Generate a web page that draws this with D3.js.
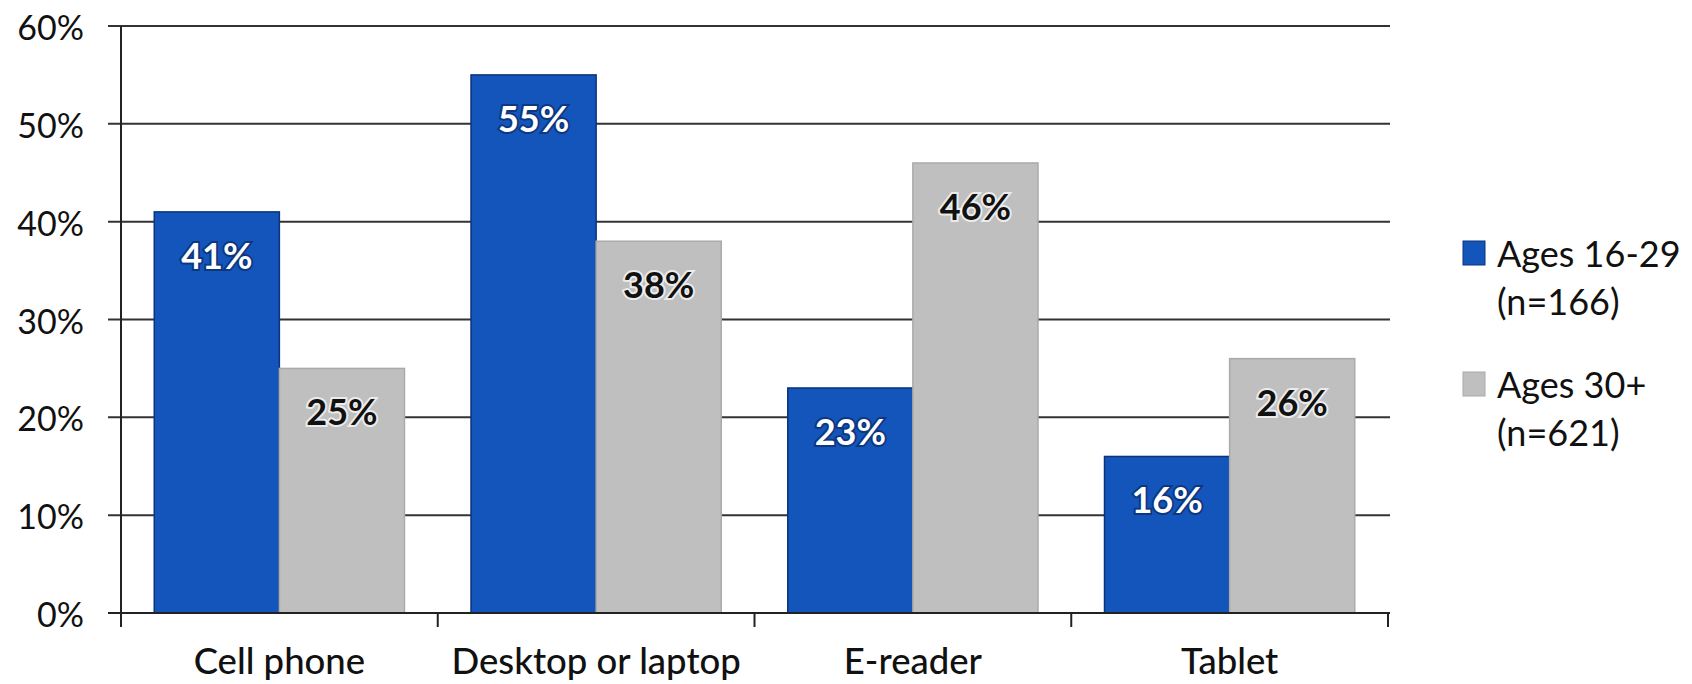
<!DOCTYPE html>
<html>
<head>
<meta charset="utf-8">
<script src="https://cdn.jsdelivr.net/npm/d3@7"></script>
<style>
  html, body { margin: 0; padding: 0; background: #ffffff; }
  svg { display: block; }
  text { font-family: Lato, "Open Sans", sans-serif; fill: #111; }
</style>
</head>
<body>
<svg id="chart" width="1692" height="684"></svg>
<script>
const categories = ["Cell phone", "Desktop or laptop", "E-reader", "Tablet"];
const ages16to29 = [41, 55, 23, 16];
const ages30plus = [25, 38, 46, 26];
const seriesKeys = ["young", "older"];
const seriesLabels = ["Ages 16-29", "Ages 30+"];
const seriesSamples = ["(n=166)", "(n=621)"];
const yTickValues = [0, 10, 20, 30, 40, 50, 60];

const colors = { young: "#1455bb", older: "#bfbfbf" };
const strokes = { young: "#0b347a", older: "#aaaaaa" };

const svg = d3.select("#chart");
const plotLeft = 121, plotRight = 1388, plotTop = 26, plotBottom = 613;

const x = d3.scaleBand().domain(categories).range([plotLeft, plotRight])
  .paddingInner(0.21).paddingOuter(0.105);
const x1 = d3.scaleBand().domain(seriesKeys).range([0, x.bandwidth()]);
const y = d3.scaleLinear().domain([0, 60]).range([plotBottom, plotTop]);

const data = categories.map((c, i) => ({
  cat: c,
  values: [
    { key: "young", v: ages16to29[i] },
    { key: "older", v: ages30plus[i] }
  ]
}));

// gridlines + y ticks
svg.append("g").selectAll("line").data(yTickValues).join("line")
  .attr("x1", plotLeft - 13).attr("x2", plotRight + 2)
  .attr("y1", d => y(d)).attr("y2", d => y(d))
  .attr("stroke", d => d === 0 ? "#222" : "#333333")
  .attr("stroke-width", 2);

// y labels
svg.append("g").selectAll("text").data(yTickValues).join("text")
  .attr("x", 84).attr("y", d => y(d) + 14)
  .attr("text-anchor", "end")
  .style("font-size", "34px")
  .text(d => d + "%");

// bars
const groups = svg.append("g").selectAll("g").data(data).join("g")
  .attr("transform", d => `translate(${x(d.cat)},0)`);

groups.selectAll("rect").data(d => d.values).join("rect")
  .attr("x", d => x1(d.key))
  .attr("width", x1.bandwidth())
  .attr("y", d => y(d.v))
  .attr("height", d => y(0) - y(d.v))
  .attr("fill", d => colors[d.key])
  .attr("stroke", d => strokes[d.key])
  .attr("stroke-width", 1.5);

// data labels
groups.selectAll("text").data(d => d.values).join("text")
  .attr("x", d => x1(d.key) + x1.bandwidth() / 2)
  .attr("y", d => y(d.v) + 57)
  .attr("text-anchor", "middle")
  .style("font-size", "36px")
  .style("font-weight", "bold")
  .style("paint-order", "stroke")
  .style("stroke", d => d.key === "young" ? "#0a2a66" : "#ffffff")
  .style("stroke-width", "4px")
  .style("stroke-opacity", 0.7)
  .style("fill", d => d.key === "young" ? "#ffffff" : "#111111")
  .text(d => d.v + "%");

// x axis line
svg.append("line")
  .attr("x1", plotLeft).attr("x2", plotRight)
  .attr("y1", y(0)).attr("y2", y(0))
  .attr("stroke", "#222").attr("stroke-width", 2);
// y axis line
svg.append("line")
  .attr("x1", plotLeft).attr("x2", plotLeft)
  .attr("y1", y(60)).attr("y2", y(0) + 14)
  .attr("stroke", "#222").attr("stroke-width", 2);

// category boundary ticks
const boundaries = categories.map(c => x(c) - x.step() * x.paddingInner() / 2)
  .concat([plotRight]);
svg.append("g").selectAll("line").data(boundaries).join("line")
  .attr("x1", d => d).attr("x2", d => d)
  .attr("y1", y(0)).attr("y2", y(0) + 14)
  .attr("stroke", "#222").attr("stroke-width", 2);

// category labels
svg.append("g").selectAll("text").data(categories).join("text")
  .attr("x", d => x(d) + x.bandwidth() / 2)
  .attr("y", 674)
  .attr("text-anchor", "middle")
  .style("font-size", "36.5px")
  .style("font-weight", "500")
  .text(d => d);

// legend
const legendTop = [241, 372];
const legend = svg.append("g").selectAll("g").data(seriesKeys).join("g");
legend.append("rect")
  .attr("x", 1463).attr("y", (d, i) => legendTop[i])
  .attr("width", 22).attr("height", 24)
  .attr("fill", d => colors[d])
  .attr("stroke", d => strokes[d]).attr("stroke-width", 1);
legend.append("text")
  .attr("x", 1497).attr("y", (d, i) => legendTop[i] + 26)
  .style("font-size", "36px")
  .text((d, i) => seriesLabels[i]);
legend.append("text")
  .attr("x", 1497).attr("y", (d, i) => legendTop[i] + 74)
  .style("font-size", "36px")
  .text((d, i) => seriesSamples[i]);
</script>
</body>
</html>
